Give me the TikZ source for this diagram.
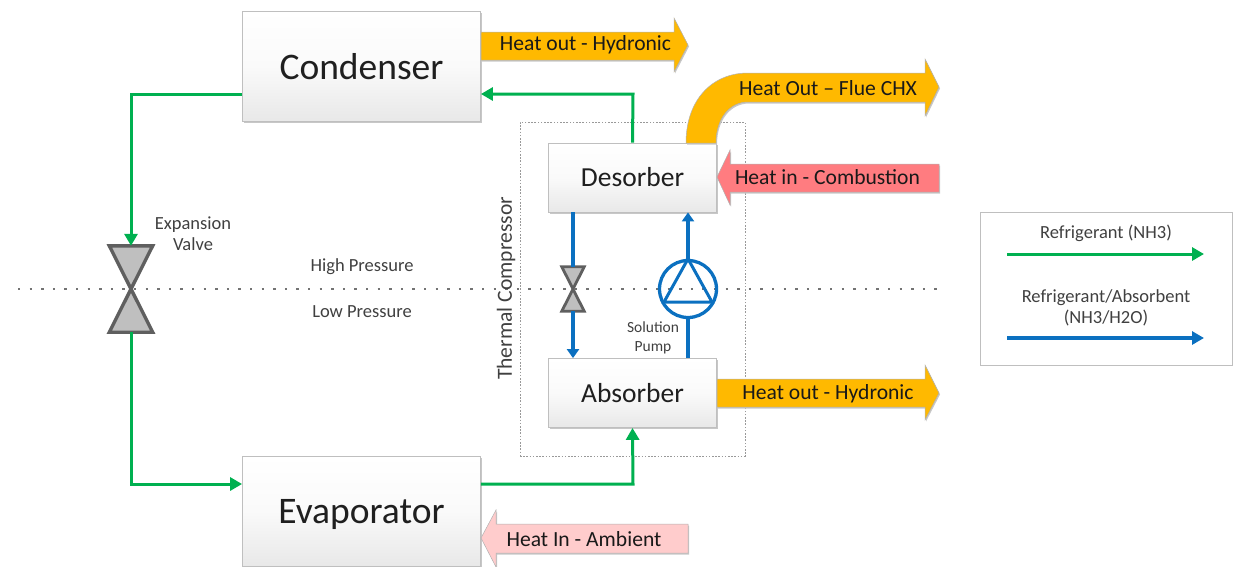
\documentclass[tikz,border=0pt]{standalone}
\usepackage{fontspec}
\setmainfont{Carlito}
\usetikzlibrary{arrows.meta,shadows,calc}
\definecolor{flowgreen}{HTML}{00B050}
\definecolor{flowblue}{HTML}{0B70C0}
\definecolor{heatgold}{HTML}{FFB900}
\definecolor{heatred}{HTML}{FF7C80}
\definecolor{heatpink}{HTML}{FFCCCC}
\definecolor{valvegray}{HTML}{BFBFBF}
\definecolor{valveline}{HTML}{5F5F5F}
\definecolor{labelgray}{HTML}{404040}
\tikzset{
  softshadow/.style={general shadow={shadow xshift=1pt,shadow yshift=-1.5pt,fill=black!22}},
  unitbox/.style={draw=black!25,line width=0.8pt,top color=white,bottom color=black!9,middle color=black!2,inner sep=0pt,text=black!88,softshadow},
  bigbox/.style={unitbox,minimum width=238pt,minimum height=110pt,text height=25pt,text depth=0pt,font=\fontsize{37.5}{37.5}\selectfont},
  smallbox/.style={unitbox,minimum width=168pt,minimum height=69pt,text height=18pt,text depth=0pt,font=\fontsize{27.5}{27.5}\selectfont},
  greenflow/.style={draw=flowgreen,line width=3pt,-{Triangle[length=12pt,width=13pt]}},
  blueflow/.style={draw=flowblue,line width=3.3pt,-{Triangle[length=9pt,width=12pt]}},
  bluepipe/.style={draw=flowblue,line width=3.3pt},
  heatarrow/.style={draw=black!30,line width=0.5pt,softshadow},
  heatlabel/.style={inner sep=0pt,text=black!90,font=\fontsize{21.6}{22}\selectfont},
  smalllabel/.style={inner sep=0pt,text=labelgray,align=center,font=\fontsize{18.5}{21}\selectfont},
  tinylabel/.style={inner sep=0pt,text=labelgray,align=center,font=\fontsize{15.5}{19}\selectfont},
  valveshape/.style={draw=valveline,fill=valvegray,line width=3.4pt,line join=miter},
  legendbox/.style={draw=black!25,line width=0.8pt,fill=white,inner sep=0pt,minimum width=252pt,minimum height=153pt},
  dotline/.style={draw=black!55,line width=2.4pt,dash pattern=on 2.4pt off 9.2pt},
  compbox/.style={draw=black!40,line width=0.9pt,dash pattern=on 1.6pt off 1.6pt,inner sep=0pt,minimum width=225pt,minimum height=334pt}
}
\begin{document}
\begin{tikzpicture}[x=1pt,y=-1pt]
\useasboundingbox (0,0) rectangle (1235,566);
\clip (0,0) rectangle (1235,566);
% pressure divide
\coordinate (divL) at (18,289);
\coordinate (divR) at (940,289);
\draw[dotline] (divL) -- (divR);
\node[compbox] (comp) at (632.5,289) {};
% boxes
\node[bigbox] (cond) at (361.5,66.5) {Condenser};
\node[bigbox] (evap) at (361.5,511) {Evaporator};
\node[smallbox] (desorb) at (632.5,177.5) {Desorber};
\node[smallbox] (absorb) at (632.5,393) {Absorber};
% heat arrows
\path[heatarrow,fill=heatgold] (481,32) -- (674,32) -- (674,18) -- (688,45) -- (674,72) -- (674,60) -- (481,60) -- cycle;
\path[heatarrow,fill=heatgold] (686,143) .. controls (686,100) and (712,73) .. (748,73) -- (925,73) -- (925,59) -- (939,87) -- (925,116) -- (925,102) -- (748,102) .. controls (730,102) and (716,118) .. (716,143) -- cycle;
\path[heatarrow,fill=heatred] (717,177) -- (730,150) -- (730,164) -- (939,164) -- (939,192) -- (730,192) -- (730,205) -- cycle;
\path[heatarrow,fill=heatgold] (717,379) -- (925,379) -- (925,365) -- (939,393) -- (925,420) -- (925,407) -- (717,407) -- cycle;
\path[heatarrow,fill=heatpink] (481,538) -- (496,510) -- (496,524) -- (688,524) -- (688,553) -- (496,553) -- (496,567) -- cycle;
\node[heatlabel] (hotA) at (585.5,45) {Heat out - Hydronic};
\node[heatlabel] (hotB) at (828,88) {Heat Out – Flue CHX};
\node[heatlabel] (hotC) at (827.5,177) {Heat in - Combustion};
\node[heatlabel] (hotD) at (828,393.5) {Heat out - Hydronic};
\node[heatlabel] (hotE) at (584,539) {Heat In - Ambient};
% expansion valve
\node[inner sep=0pt,minimum width=43pt,minimum height=86pt] (valve) at (131,289) {};
\path[valveshape] (valve.north west) -- (valve.north east) -- (valve.south west) -- (valve.south east) -- cycle;
\node[inner sep=0pt,minimum width=22pt,minimum height=44pt] (svalve) at (573,289) {};
\path[valveshape,line width=2.8pt] (svalve.north west) -- (svalve.north east) -- (svalve.south west) -- (svalve.south east) -- cycle;
% pump
\node[draw=flowblue,line width=3.3pt,circle,inner sep=0pt,minimum size=57pt] (pump) at (688,289) {};
\draw[flowblue,line width=3pt,line join=miter] (pump.north) -- (712,302) -- (664,302) -- cycle;
% connectors
\coordinate (upper) at (131,94);
\coordinate (lower) at (131,484);
\coordinate (upright) at (633,94);
\coordinate (lowright) at (633,484);
\draw[greenflow] (upper -| cond.west) -- (upper) -- (valve.north);
\draw[greenflow] (valve.south) -- (lower) -- (lower -| evap.west);
\draw[greenflow] (lowright -| evap.east) -- (lowright) -- (absorb.south);
\draw[greenflow] (desorb.north) -- (upright) -- (upright -| cond.east);
\draw[bluepipe] (svalve.north |- desorb.south) -- (svalve.north);
\draw[blueflow] (svalve.south) -- (svalve.south |- absorb.north);
\draw[bluepipe] (pump.south |- absorb.north) -- (pump.south);
\draw[blueflow] (pump.north) -- (pump.north |- desorb.south);
% labels
\node[smalllabel] (lblvalve) at (193,234) {Expansion\\Valve};
\node[smalllabel] (lblhigh) at (362,267) {High Pressure};
\node[smalllabel] (lbllow) at (362,311.5) {Low Pressure};
\node[tinylabel] (lblpump) at (653,337.5) {Solution\\Pump};
\node[inner sep=0pt,rotate=90,text=labelgray,font=\fontsize{21.6}{22}\selectfont] (lblcomp) at (506,288.5) {Thermal Compressor};
% legend
\node[legendbox] (legend) at (1106,288.5) {};
\coordinate (gA) at (1007,254);
\coordinate (gB) at (1204,254);
\coordinate (bA) at (1007,338);
\coordinate (bB) at (1204,338);
\draw[greenflow] (gA) -- (gB);
\draw[blueflow,-{Triangle[length=12pt,width=13pt]}] (bA) -- (bB);
\node[smalllabel] (lgA) at (1106,233) {Refrigerant (NH3)};
\node[smalllabel] (lgB) at (1106,308) {Refrigerant/Absorbent\\(NH3/H2O)};
\end{tikzpicture}
\end{document}
